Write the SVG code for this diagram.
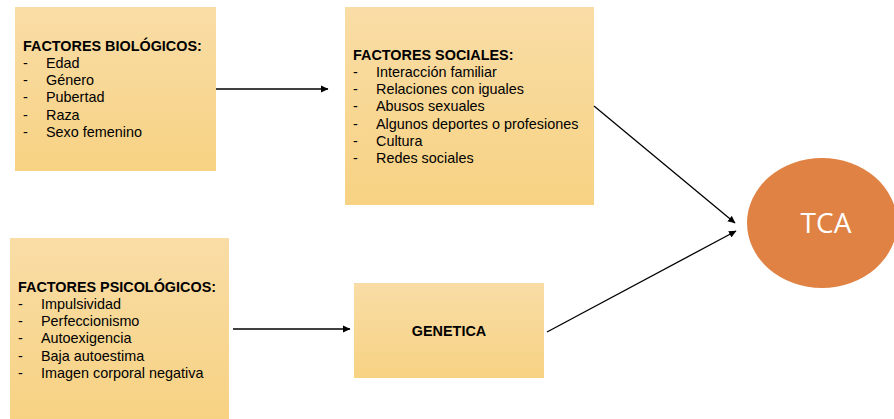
<svg xmlns="http://www.w3.org/2000/svg" width="894" height="419" viewBox="0 0 894 419">
<defs>
<linearGradient id="g" x1="0" y1="0" x2="0" y2="1">
<stop offset="0" stop-color="#F9DDA6"/>
<stop offset="1" stop-color="#F7D283"/>
</linearGradient>
<marker id="ah" markerWidth="8" markerHeight="8" refX="7" refY="4" orient="auto" markerUnits="userSpaceOnUse">
<path d="M0,0.5 L7.5,4 L0,7.5 Z" fill="#000"/>
</marker>
<style>
.box{fill:url(#g);}
.t{font-family:"Liberation Sans",Arial,sans-serif;font-size:14.4px;fill:#000;}
.b{font-weight:bold;}
.c{stroke:#000;stroke-width:1.3;fill:none;marker-end:url(#ah);}
</style>
</defs>
<rect width="894" height="419" fill="#fff"/>
<g id="biologicos">
<rect class="box" x="15" y="7" width="201" height="164"/>
<text class="t b" x="23" y="51">FACTORES BIOLÓGICOS:</text>
<text class="t" x="23" y="68">-</text><text class="t" x="46" y="68">Edad</text>
<text class="t" x="23" y="85">-</text><text class="t" x="46" y="85">Género</text>
<text class="t" x="23" y="102">-</text><text class="t" x="46" y="102">Pubertad</text>
<text class="t" x="23" y="120">-</text><text class="t" x="46" y="120">Raza</text>
<text class="t" x="23" y="137">-</text><text class="t" x="46" y="137">Sexo femenino</text>
</g>
<g id="sociales">
<rect class="box" x="345" y="7" width="249" height="198"/>
<text class="t b" x="353" y="60">FACTORES SOCIALES:</text>
<text class="t" x="353" y="77">-</text><text class="t" x="376" y="77">Interacción familiar</text>
<text class="t" x="353" y="94">-</text><text class="t" x="376" y="94">Relaciones con iguales</text>
<text class="t" x="353" y="111">-</text><text class="t" x="376" y="111">Abusos sexuales</text>
<text class="t" x="353" y="129">-</text><text class="t" x="376" y="129">Algunos deportes o profesiones</text>
<text class="t" x="353" y="146">-</text><text class="t" x="376" y="146">Cultura</text>
<text class="t" x="353" y="163">-</text><text class="t" x="376" y="163">Redes sociales</text>
</g>
<g id="psicologicos">
<rect class="box" x="10" y="238" width="219" height="181"/>
<text class="t b" x="18" y="292">FACTORES PSICOLÓGICOS:</text>
<text class="t" x="18" y="309">-</text><text class="t" x="41" y="309">Impulsividad</text>
<text class="t" x="18" y="326">-</text><text class="t" x="41" y="326">Perfeccionismo</text>
<text class="t" x="18" y="343">-</text><text class="t" x="41" y="343">Autoexigencia</text>
<text class="t" x="18" y="361">-</text><text class="t" x="41" y="361">Baja autoestima</text>
<text class="t" x="18" y="378">-</text><text class="t" x="41" y="378">Imagen corporal negativa</text>
</g>
<g id="genetica">
<rect class="box" x="354" y="283" width="190" height="95"/>
<text class="t b" x="449" y="336" text-anchor="middle">GENETICA</text>
</g>
<g id="tca">
<ellipse cx="822" cy="223" rx="75" ry="65" fill="#E08244"/>
<text x="826" y="233" text-anchor="middle" font-family="'Open Sans','Liberation Sans',sans-serif" font-size="28" fill="#fff">TCA</text>
</g>
<g id="connectors">
<line class="c" x1="216" y1="89" x2="328" y2="89"/>
<line class="c" x1="594" y1="106" x2="735" y2="223"/>
<line class="c" x1="233" y1="329" x2="350" y2="329"/>
<line class="c" x1="547" y1="332" x2="736" y2="231"/>
</g>
</svg>
